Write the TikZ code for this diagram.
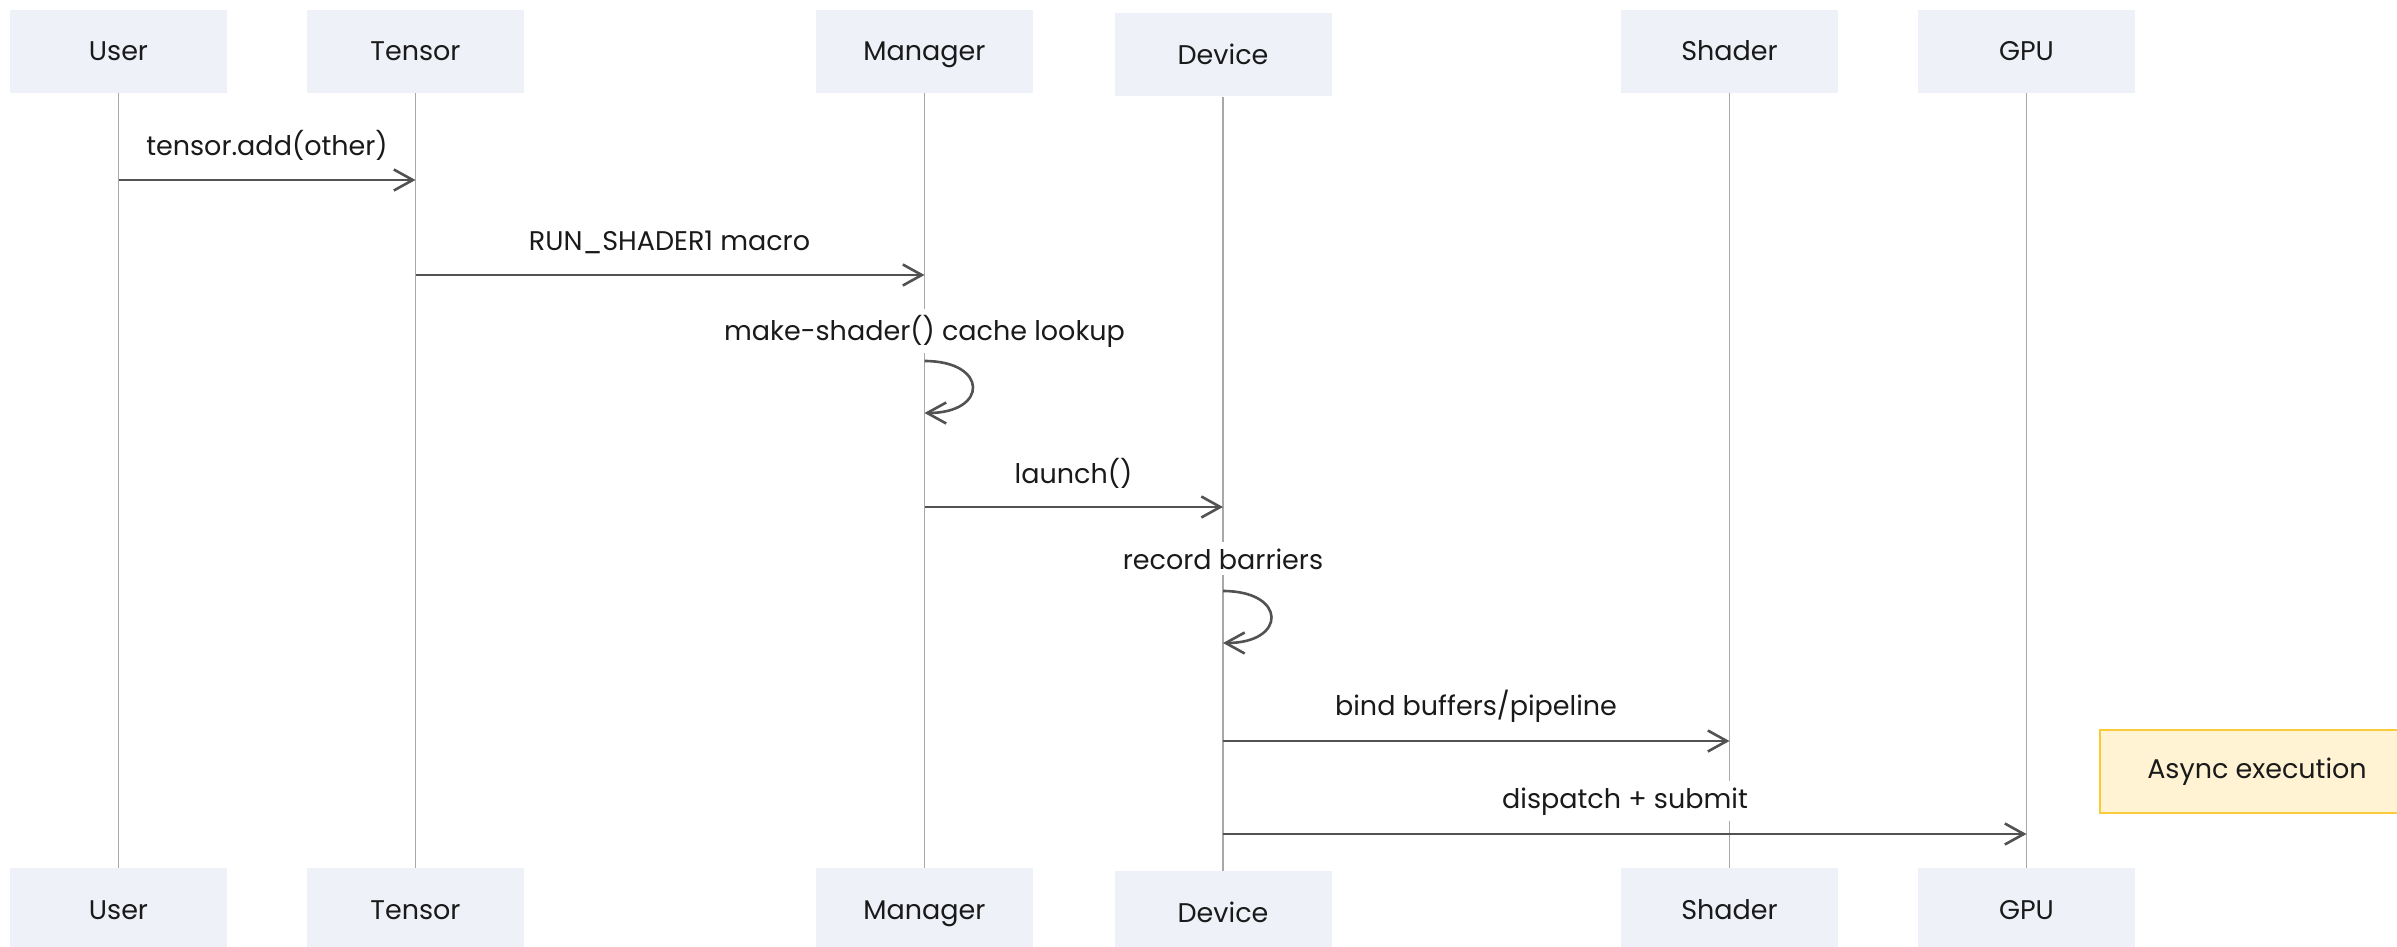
\documentclass[tikz,border=0pt]{standalone}
\usepackage{fontspec}
\setmainfont{Poppins}
\usetikzlibrary{arrows.meta}

\definecolor{actorfill}{HTML}{EEF1F8}
\definecolor{lifegray}{HTML}{A8A8A8}
\definecolor{msggray}{HTML}{525252}
\definecolor{notefill}{HTML}{FFF3D4}
\definecolor{noteline}{HTML}{F9CA3A}
\definecolor{ink}{HTML}{1A1A1A}

\begin{document}
\begin{tikzpicture}[x=1pt,y=-1pt,
  font=\fontsize{27}{32}\selectfont,
  actor/.style={fill=actorfill, minimum width=217pt, minimum height=83pt,
                inner sep=0pt, text=ink, text height=19pt, text depth=0pt},
  life/.style={draw=lifegray, line width=1.8pt},
  msg/.style={draw=msggray, line width=2.6pt,
              -{Straight Barb[length=19pt,width=21pt,line width=2.6pt]}},
  lbl/.style={fill=white, text=ink, inner xsep=3pt, inner ysep=6pt, anchor=base},
  note/.style={fill=notefill, draw=noteline, line width=2pt,
               minimum width=314pt, minimum height=83pt, text=ink}
]
\useasboundingbox (0,0) rectangle (2397,947);
\clip (0,0) rectangle (2397,947);

% participants, top row
\node[actor] (userT)    at (118.5,51.5) {User};
\node[actor] (tensorT)  at (415.5,51.5) {Tensor};
\node[actor] (managerT) at (924.5,51.5) {Manager};
\node[actor] (deviceT)  at (1223,55)    {Device};
\node[actor] (shaderT)  at (1729.5,51.5) {Shader};
\node[actor] (gpuT)     at (2026.5,51.5) {GPU};

% participants, bottom row
\node[actor] (userB)    at (118.5,909.5) {User};
\node[actor] (tensorB)  at (415.5,909.5) {Tensor};
\node[actor] (managerB) at (924.5,909.5) {Manager};
\node[actor] (deviceB)  at (1223,912.5)  {Device};
\node[actor] (shaderB)  at (1729.5,909.5) {Shader};
\node[actor] (gpuB)     at (2026.5,909.5) {GPU};

% lifelines
\draw[life] (userT.south)    -- (userB.north);
\draw[life] (tensorT.south)  -- (tensorB.north);
\draw[life] (managerT.south) -- (managerB.north);
\draw[life] (deviceT.south)  -- (deviceB.north);
\draw[life] (shaderT.south)  -- (shaderB.north);
\draw[life] (gpuT.south)     -- (gpuB.north);

% message labels
\node[lbl] (l1) at (267,155)    {tensor.add(other)};
\node[lbl] (l2) at (669.5,250)  {RUN\_SHADER1 macro};
\node[lbl] (l3) at (924.5,340)  {make-shader() cache lookup};
\node[lbl] (l4) at (1073.5,483) {launch()};
\node[lbl] (l5) at (1223,569)   {record barriers};
\node[lbl] (l6) at (1476,715)   {bind buffers/pipeline};
\node[lbl] (l7) at (1625,808)   {dispatch + submit};

% anchor points of the messages on the lifelines
\coordinate (a1) at (userT.south |- 0,180);
\coordinate (b1) at (tensorT.south |- 0,180);
\coordinate (a2) at (tensorT.south |- 0,275);
\coordinate (b2) at (managerT.south |- 0,275);
\coordinate (a3) at (managerT.south |- 0,361);
\coordinate (b3) at (managerT.south |- 0,413);
\coordinate (a4) at (managerT.south |- 0,507);
\coordinate (b4) at (deviceT.south |- 0,507);
\coordinate (a5) at (deviceT.south |- 0,591);
\coordinate (b5) at (deviceT.south |- 0,643);
\coordinate (a6) at (deviceT.south |- 0,741);
\coordinate (b6) at (shaderT.south |- 0,741);
\coordinate (a7) at (deviceT.south |- 0,834);
\coordinate (b7) at (gpuT.south |- 0,834);

% messages
\draw[msg] (a1) -- (b1);
\draw[msg] (a2) -- (b2);
\draw[msg] (a3) .. controls +(64,0) and +(64,0) .. (b3);
\draw[msg] (a4) -- (b4);
\draw[msg] (a5) .. controls +(64,0) and +(64,0) .. (b5);
\draw[msg] (a6) -- (b6);
\draw[msg] (a7) -- (b7);

% note
\node[note] (async) at (2257,771.5) {Async execution};
\end{tikzpicture}
\end{document}
